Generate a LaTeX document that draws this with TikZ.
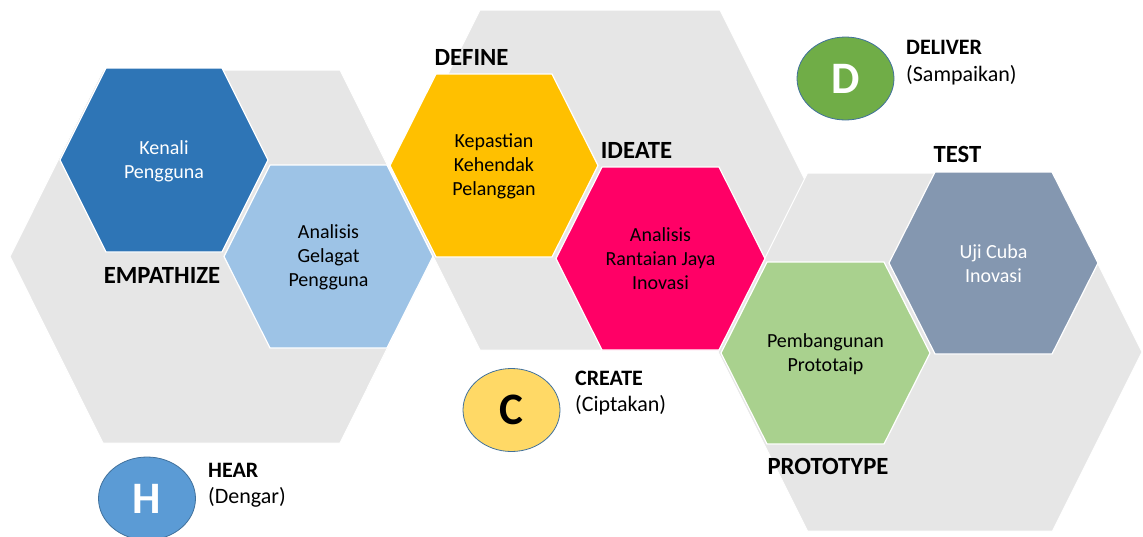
\documentclass[tikz,border=0pt]{standalone}
\usepackage{fontspec}
\setmainfont{Carlito}
\usetikzlibrary{shapes.geometric}
\definecolor{hgrey}{HTML}{E6E6E6}
\definecolor{hblue}{HTML}{2E75B6}
\definecolor{hlblue}{HTML}{9DC3E6}
\definecolor{hyellow}{HTML}{FFC000}
\definecolor{hpink}{HTML}{FF0066}
\definecolor{hslate}{HTML}{8497B0}
\definecolor{hgreen}{HTML}{A9D18E}
\definecolor{cblue}{HTML}{5B9BD5}
\definecolor{cgold}{HTML}{FFD966}
\definecolor{cgreen}{HTML}{70AD47}
\definecolor{cline}{HTML}{41719C}
% #1 cx, #2 cy, #3 half width, #4 half height, #5 offset, #6 style
\newcommand{\HexShape}[6]{%
  \filldraw[#6] ({#1-#3},{#2}) -- ({#1-#3+#5},{#2-#4}) -- ({#1+#3-#5},{#2-#4})
    -- ({#1+#3},{#2}) -- ({#1+#3-#5},{#2+#4}) -- ({#1-#3+#5},{#2+#4}) -- cycle;}
\begin{document}
\begin{tikzpicture}[x=1pt,y=-1pt,
  bighex/.style={fill=hgrey,draw=white,line width=1pt},
  smallhex/.style={draw=white,line width=1.2pt},
  hextext/.style={font=\fontsize{20}{24}\selectfont,align=center,inner sep=0pt},
  phase/.style={font=\fontsize{24.7}{29}\selectfont\bfseries,anchor=base,inner sep=0pt},
  circ/.style={ellipse,draw=cline,line width=0.8pt,minimum width=97pt,minimum height=83pt,inner sep=0pt,font=\fontsize{45}{50}\selectfont\bfseries},
  ctitle/.style={font=\fontsize{22}{26}\selectfont\bfseries,anchor=base west,inner sep=0pt},
  csub/.style={font=\fontsize{22}{26}\selectfont,anchor=base west,inner sep=0pt}]
\useasboundingbox (0,0) rectangle (1143,536);
\clip (0,0) rectangle (1143,536);
% big grey hexagons
\HexShape{221.5}{256.5}{211.5}{186.5}{93}{bighex}
\HexShape{600}{180}{205}{170}{85}{bighex}
\HexShape{930}{352}{212}{179}{89.5}{bighex}
% coloured hexagons
\HexShape{164}{160}{104}{92}{46}{smallhex,fill=hblue}
\HexShape{328.5}{256.5}{104.5}{91.5}{46}{smallhex,fill=hlblue}
\HexShape{494}{165.5}{104}{91.5}{46}{smallhex,fill=hyellow}
\HexShape{660.5}{258.5}{104.5}{91.5}{46}{smallhex,fill=hpink}
\HexShape{993.5}{263}{104.5}{91}{46}{smallhex,fill=hslate}
\HexShape{825.5}{353}{104.5}{91}{46}{smallhex,fill=hgreen}
% hexagon texts
\node[hextext,text=white] (kenali) at (164,161) {Kenali\\Pengguna};
\node[hextext] (gelagat) at (328.5,257) {Analisis\\Gelagat\\Pengguna};
\node[hextext] (kepastian) at (494,166) {Kepastian\\Kehendak\\Pelanggan};
\node[hextext] (rantaian) at (660.5,259) {Analisis\\Rantaian Jaya\\Inovasi};
\node[hextext,text=white] (ujicuba) at (993.5,264) {Uji Cuba\\Inovasi};
\node[hextext] (prototaip) at (825.5,354) {Pembangunan\\Prototaip};
% phase labels
\node[phase] (empathize) at (162,283) {EMPATHIZE};
\node[phase] (define) at (471.5,65) {DEFINE};
\node[phase] (ideate) at (636.5,158) {IDEATE};
\node[phase] (test) at (957.5,162) {TEST};
\node[phase] (prototype) at (828,474) {PROTOTYPE};
% circles
\node[circ,fill=cblue,text=white] (hcirc) at (147,498.5) {H};
\node[circ,fill=cgold,text=black] (ccirc) at (511.5,410) {C};
\node[circ,fill=cgreen,text=white] (dcirc) at (845.5,78.5) {D};
\node[ctitle] (hear) at (208,477) {HEAR};
\node[csub] (dengar) at (208,503) {(Dengar)};
\node[ctitle] (create) at (575,385) {CREATE};
\node[csub] (ciptakan) at (575,411) {(Ciptakan)};
\node[ctitle] (deliver) at (906,54) {DELIVER};
\node[csub] (sampaikan) at (906,81) {(Sampaikan)};
\end{tikzpicture}
\end{document}
